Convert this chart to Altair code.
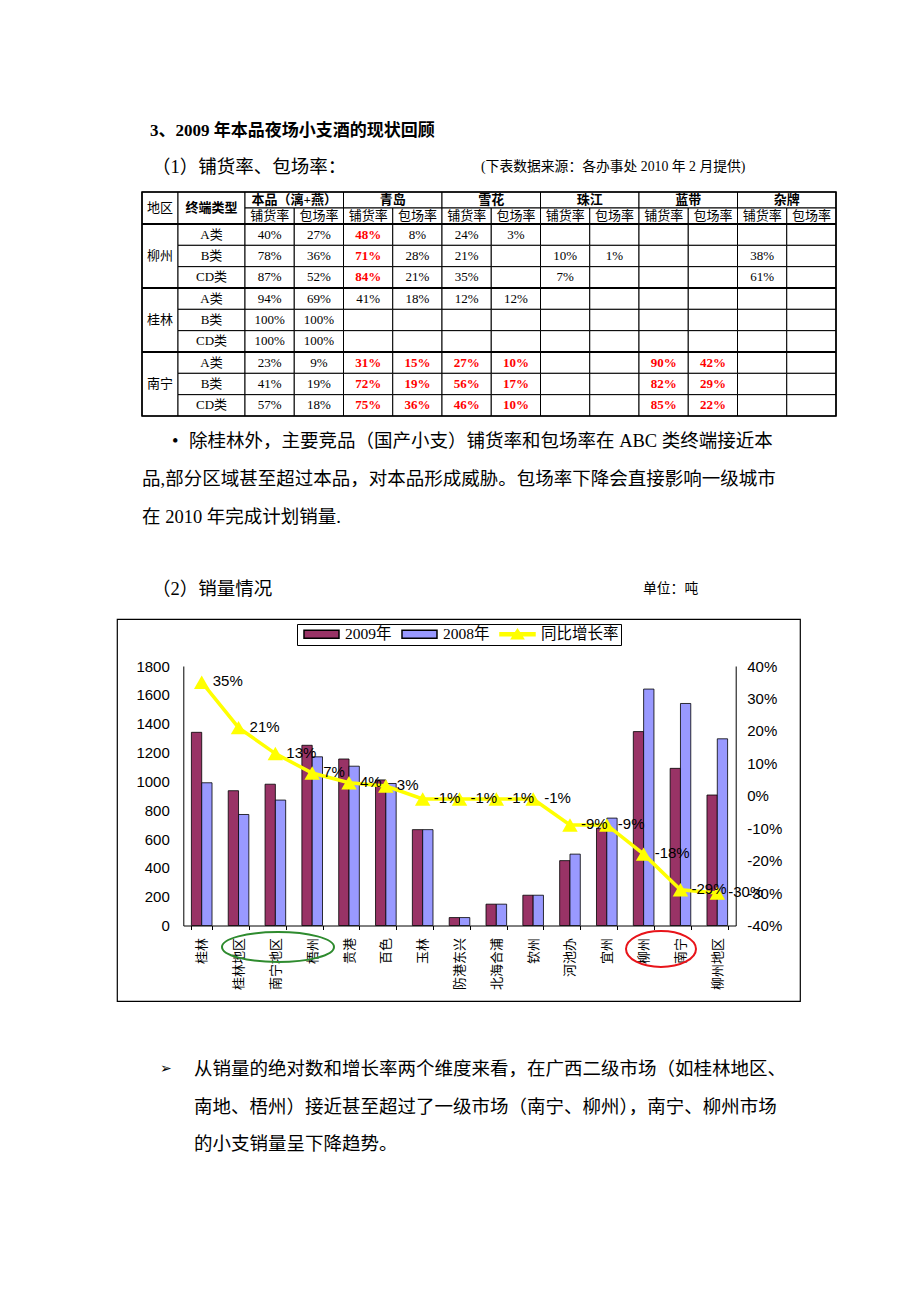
import altair as alt
import pandas as pd

# ---------------- fonts ----------------
SERIF = "Liberation Serif, Noto Sans CJK SC"
SANS = "Liberation Sans, Noto Sans CJK SC"
CJK = "Noto Sans CJK SC"

# ---------------- page texts ----------------
title_text = "3、2009 年本品夜场小支酒的现状回顾"
sub1_text = "（1）铺货率、包场率："
source_text = "(下表数据来源：各办事处 2010 年 2 月提供)"
para_bullet = "•"
para_lines = [
    "除桂林外，主要竞品（国产小支）铺货率和包场率在 ABC 类终端接近本",
    "品,部分区域甚至超过本品，对本品形成威胁。包场率下降会直接影响一级城市",
    "在 2010 年完成计划销量.",
]
sub2_text = "（2）销量情况"
unit_text = "单位：吨"
concl_bullet = "➢"
concl_lines = [
    "从销量的绝对数和增长率两个维度来看，在广西二级市场（如桂林地区、",
    "南地、梧州）接近甚至超过了一级市场（南宁、柳州），南宁、柳州市场",
    "的小支销量呈下降趋势。",
]

# ---------------- table data ----------------
head_region = "地区"
head_type = "终端类型"
brands = ["本品（漓+燕）", "青岛", "雪花", "珠江", "蓝带", "杂牌"]
metrics = ["铺货率", "包场率"]
regions = ["柳州", "桂林", "南宁"]
outlet_types = ["A类", "B类", "CD类"]
rates = [
    ["40%", "27%", "48%", "8%", "24%", "3%", "", "", "", "", "", ""],
    ["78%", "36%", "71%", "28%", "21%", "", "10%", "1%", "", "", "38%", ""],
    ["87%", "52%", "84%", "21%", "35%", "", "7%", "", "", "", "61%", ""],
    ["94%", "69%", "41%", "18%", "12%", "12%", "", "", "", "", "", ""],
    ["100%", "100%", "", "", "", "", "", "", "", "", "", ""],
    ["100%", "100%", "", "", "", "", "", "", "", "", "", ""],
    ["23%", "9%", "31%", "15%", "27%", "10%", "", "", "90%", "42%", "", ""],
    ["41%", "19%", "72%", "19%", "56%", "17%", "", "", "82%", "29%", "", ""],
    ["57%", "18%", "75%", "36%", "46%", "10%", "", "", "85%", "22%", "", ""],
]
red_cells = [(0, 2), (1, 2), (2, 2),
             (6, 2), (6, 3), (6, 4), (6, 5), (6, 8), (6, 9),
             (7, 2), (7, 3), (7, 4), (7, 5), (7, 8), (7, 9),
             (8, 2), (8, 3), (8, 4), (8, 5), (8, 8), (8, 9)]

# ---------------- chart data ----------------
cities = ["桂林", "桂林地区", "南宁地区", "梧州", "贵港", "百色", "玉林", "防港东兴",
          "北海合浦", "钦州", "河池办", "宜州", "柳州", "南宁", "柳州地区"]
sales_2009 = [1340, 935, 980, 1250, 1155, 1010, 665, 55, 148, 210, 450, 675, 1345, 1090, 905]
sales_2008 = [990, 770, 870, 1170, 1105, 985, 665, 55, 148, 210, 495, 745, 1640, 1540, 1295]
growth_pct = [35, 21, 13, 7, 4, 3, -1, -1, -1, -1, -9, -9, -18, -29, -30]
series_names = ["2009年", "2008年", "同比增长率"]
series_colors = ["#993366", "#9999FF", "#FFFF00"]
tons_ticks = [0, 200, 400, 600, 800, 1000, 1200, 1400, 1600, 1800]
pct_ticks = [-40, -30, -20, -10, 0, 10, 20, 30, 40]

# ---------------- helpers ----------------
SEC_W = 725


def text_mark(text, x, y, size, weight="normal", font=SERIF, align="left", color="black"):
    return alt.Chart(pd.DataFrame({"t": [text]})).mark_text(
        align=align, baseline="middle", fontSize=size, fontWeight=weight,
        font=font, color=color
    ).encode(text="t:N", x=alt.value(x), y=alt.value(y))


# ---------------- section 1: heading ----------------
s1 = alt.layer(
    text_mark(title_text, 33, 122, 17, weight="bold"),
    text_mark(sub1_text, 35, 158, 18.5),
    text_mark(source_text, 364, 158, 13.8),
).properties(width=SEC_W, height=183)

# ---------------- section 2: table ----------------
COL_W = [36, 67] + [49.25] * 12
ROW_H = [16, 16] + [21.33] * 9
xe = [0.0]
for w in COL_W:
    xe.append(xe[-1] + w)
ye = [0.0]
for h in ROW_H:
    ye.append(ye[-1] + h)

cells, texts = [], []


def add_cell(c0, c1, r0, r1, text, style):
    cells.append(dict(x0=xe[c0], x1=xe[c1], y0=ye[r0], y1=ye[r1]))
    if text:
        texts.append(dict(x=(xe[c0] + xe[c1]) / 2, y=(ye[r0] + ye[r1]) / 2, t=text, s=style))


add_cell(0, 1, 0, 2, head_region, "normal")
add_cell(1, 2, 0, 2, head_type, "bold")
for i, b in enumerate(brands):
    add_cell(2 + 2 * i, 4 + 2 * i, 0, 1, b, "bold")
    for j, m in enumerate(metrics):
        add_cell(2 + 2 * i + j, 3 + 2 * i + j, 1, 2, m, "normal")
for r, reg in enumerate(regions):
    add_cell(0, 1, 2 + 3 * r, 5 + 3 * r, reg, "normal")
    for k, t in enumerate(outlet_types):
        row = 3 * r + k
        add_cell(1, 2, 2 + row, 3 + row, t, "normal")
        for c in range(12):
            add_cell(2 + c, 3 + c, 2 + row, 3 + row, rates[row][c],
                     "red" if (row, c) in red_cells else "normal")

cells_df = pd.DataFrame(cells)
texts_df = pd.DataFrame(texts)
sep_df = pd.DataFrame({"y": [ye[2], ye[5], ye[8]], "x0": [0.0] * 3, "x1": [xe[-1]] * 3})
frame_df = pd.DataFrame({"x0": [0.0], "x1": [xe[-1]], "y0": [0.0], "y1": [ye[-1]]})

tx = alt.Scale(domain=[0, xe[-1]], range=[25, 719], nice=False, zero=False)
ty = alt.Scale(domain=[0, ye[-1]], range=[0, 224], nice=False, zero=False)

cell_rects = alt.Chart(cells_df).mark_rect(fill="white", stroke="black", strokeWidth=1).encode(
    x=alt.X("x0:Q", scale=tx, axis=None), x2="x1", y=alt.Y("y0:Q", scale=ty, axis=None), y2="y1")
frame = alt.Chart(frame_df).mark_rect(fill="transparent", stroke="black", strokeWidth=1.6).encode(
    x=alt.X("x0:Q", scale=tx, axis=None), x2="x1", y=alt.Y("y0:Q", scale=ty, axis=None), y2="y1")
seps = alt.Chart(sep_df).mark_rule(color="black", strokeWidth=2.2).encode(
    x=alt.X("x0:Q", scale=tx, axis=None), x2="x1", y=alt.Y("y:Q", scale=ty, axis=None))


def table_text(style, weight, color):
    return alt.Chart(texts_df).transform_filter(alt.datum.s == style).mark_text(
        align="center", baseline="middle", font=SERIF, fontSize=13, fontWeight=weight, color=color
    ).encode(x=alt.X("x:Q", scale=tx, axis=None), y=alt.Y("y:Q", scale=ty, axis=None), text="t:N")


table_sec = alt.layer(
    cell_rects, seps, frame,
    table_text("normal", "normal", "black"),
    table_text("bold", "bold", "black"),
    table_text("red", "bold", "#FF0000"),
).properties(width=SEC_W, height=224)

# ---------------- section 3: paragraph ----------------
s3 = alt.layer(
    text_mark(para_bullet, 55, 25, 18.5),
    text_mark(para_lines[0], 72, 25, 18.5),
    text_mark(para_lines[1], 25, 63, 18.5),
    text_mark(para_lines[2], 25, 101, 18.5),
    text_mark(sub2_text, 35, 173, 18.5),
    text_mark(unit_text, 526, 173, 13.8),
).properties(width=SEC_W, height=203)

# ---------------- section 4: bar + line chart ----------------
CHART_W, CHART_H = 683, 382
PLOT_X = [66.3, 618.7]
PLOT_Y = [306.5, 47.0]

bar_df = pd.DataFrame({
    "city": cities * 2,
    "series": [series_names[0]] * len(cities) + [series_names[1]] * len(cities),
    "tons": sales_2009 + sales_2008,
})
growth_df = pd.DataFrame({"city": cities, "growth": growth_pct,
                          "label": [f"{g}%" for g in growth_pct]})

x_scale = alt.Scale(domain=cities, range=PLOT_X, paddingInner=0.44, paddingOuter=0.22)
x_axis = alt.Axis(orient="bottom", offset=-(CHART_H - PLOT_Y[0]), title=None, labelAngle=-90,
                  labelFont=CJK, labelFontSize=13, labelColor="black", labelPadding=8,
                  labelOverlap=False, domainColor="black", domainWidth=1, tickColor="black",
                  tickSize=4, tickBand="extent", grid=False)
x_enc = alt.X("city:N", scale=x_scale, axis=x_axis)

y_left = alt.Y("tons:Q", scale=alt.Scale(domain=[0, 1800], range=PLOT_Y, nice=False),
               axis=alt.Axis(orient="left", offset=-PLOT_X[0], values=tons_ticks, format="d",
                             title=None, grid=False, ticks=False, labelFont=SANS, labelFontSize=15,
                             labelColor="black", labelPadding=14, labelOverlap=False,
                             domainColor="black"))
y_right = alt.Y("growth:Q", scale=alt.Scale(domain=[-40, 40], range=PLOT_Y, nice=False, zero=False),
                axis=alt.Axis(orient="right", offset=-(CHART_W - PLOT_X[1]), values=pct_ticks,
                              labelExpr="datum.value + '%'", title=None, grid=False, ticks=False,
                              labelFont=SANS, labelFontSize=15, labelColor="black",
                              labelPadding=11, labelOverlap=False, domainColor="black"))

color_scale = alt.Scale(domain=series_names, range=series_colors)

# legend symbols: unit r = 7px (symbolSize 196); paths reach right of the symbol box
RECT_PATH = "M-0.43,-0.57H4.57V0.57H-0.43Z"
LINE_PATH = "M-0.43,-0.2H4.57V0.2H-0.43Z M2.07,-0.71L2.93,0.64H1.21Z"
legend_cfg = alt.Legend(orient="none", legendX=180, legendY=5, direction="horizontal", title=None,
                        strokeColor="black", padding=2, labelFont=SERIF, labelFontSize=15.5,
                        labelColor="black", symbolSize=196, labelOffset=30, columnPadding=5)
legend_layer = alt.Chart(pd.DataFrame({"series": series_names})).transform_filter("false").mark_point(
    filled=True, opacity=1, strokeWidth=1).encode(
    color=alt.Color("series:N", scale=color_scale, legend=legend_cfg),
    shape=alt.Shape("series:N", scale=alt.Scale(domain=series_names, range=[RECT_PATH, RECT_PATH, LINE_PATH]),
                    legend=legend_cfg),
    stroke=alt.Stroke("series:N", scale=alt.Scale(domain=series_names, range=["black", "black", "#FFFF00"]),
                      legend=legend_cfg),
)

bars = alt.Chart(bar_df).mark_bar(stroke="black", strokeWidth=0.8).encode(
    x=x_enc,
    xOffset=alt.XOffset("series:N", scale=alt.Scale(domain=series_names[:2], paddingInner=0, paddingOuter=0)),
    y=y_left,
    color=alt.Color("series:N", scale=color_scale, legend=legend_cfg),
)

GREEN_ELL = "M-1,0A1,0.268,0,1,0,1,0A1,0.268,0,1,0,-1,0Z"
RED_ELL = "M-1,0A1,0.514,0,1,0,1,0A1,0.514,0,1,0,-1,0Z"
ell_df = pd.DataFrame({"k": ["e"]})
ell_green = alt.Chart(ell_df).mark_point(shape=GREEN_ELL, size=12544, filled=False, stroke="#2E8B2E",
                                         strokeWidth=2, opacity=1).encode(x=alt.value(161), y=alt.value(328))
ell_red = alt.Chart(ell_df).mark_point(shape=RED_ELL, size=4900, filled=False, stroke="#E8141A",
                                       strokeWidth=2, opacity=1).encode(x=alt.value(544), y=alt.value(330))

line = alt.Chart(growth_df).mark_line(color="#FFFF00", strokeWidth=3.5).encode(x=x_enc, y=y_right)
pts = alt.Chart(growth_df).mark_point(shape="triangle-up", filled=True, size=240, color="#FFFF00",
                                      opacity=1).encode(x=x_enc, y=y_right)
lbls = alt.Chart(growth_df).mark_text(align="left", baseline="middle", dx=11, dy=-1, font=SANS,
                                      fontSize=15, color="black").encode(x=x_enc, y=y_right, text="label:N")

left_group = alt.layer(legend_layer, bars, ell_green, ell_red)
right_group = alt.layer(line, pts, lbls)
chart_sec = alt.layer(left_group, right_group).resolve_scale(y="independent").properties(
    width=CHART_W, height=CHART_H, view=alt.ViewBackground(stroke="black", strokeWidth=1.2))

# ---------------- section 5: conclusion ----------------
s5 = alt.layer(
    text_mark(concl_bullet, 43, 68, 14, font="DejaVu Sans"),
    text_mark(concl_lines[0], 77, 68, 18.5),
    text_mark(concl_lines[1], 77, 106, 18.5),
    text_mark(concl_lines[2], 77, 143, 18.5),
).properties(width=SEC_W, height=160)

chart = alt.vconcat(s1, table_sec, s3, chart_sec, s5, spacing=0, bounds="flush").resolve_legend(
    color="independent", shape="independent", stroke="independent"
).properties(
    padding={"left": 102, "top": 0, "right": 4, "bottom": 4}
).configure_view(stroke="transparent")

chart.save("out.html", embed_options={"renderer": "svg", "actions": False})
